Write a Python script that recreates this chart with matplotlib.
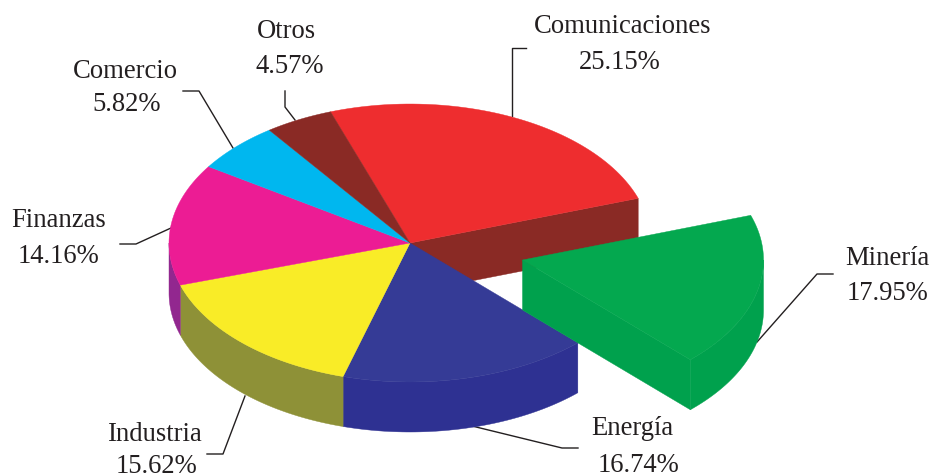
import numpy as np
import matplotlib
matplotlib.use("Agg")
import matplotlib.pyplot as plt

# Data
sectors = ['Comunicaciones', 'Minería', 'Energía', 'Industria', 'Finanzas', 'Comercio', 'Otros']
shares = [25.15, 17.95, 16.74, 15.62, 14.16, 5.82, 4.57]

# Colours, same order as sectors
top_colors = ['#EE2D2F', '#04A84F', '#353B96', '#F9EC27', '#EC1C94', '#00B7EF', '#8A2A25']
side_colors = ['#8A2A25', '#00A14D', '#2E3192', '#8E9137', '#92278F', '#00B7EF', '#8A2A25']

# Pie geometry in pixels
cx, cy = 410, 243
rx, ry = 241, 139
depth = 50
start_angle = 109.3  # left edge of Comunicaciones
explode = {'Minería': (112.5, 17)}

# Label layout: (x, baseline y) for the name and for the percent
name_pos = [(623, 33), (887, 265), (632, 435), (155, 441), (59, 227), (125, 78), (286, 38)]
value_pos = [(620, 69), (888, 300), (639, 472), (157, 473), (59, 263), (127, 111), (290, 73)]
leaders = [
    [(526, 48), (512, 48), (512, 116)],
    [(833, 274), (817, 274), (757, 342)],
    [(578, 448), (562, 448), (472, 426)],
    [(207, 454), (223, 454), (245, 396)],
    [(120, 244), (136, 244), (171, 228)],
    [(183, 91), (199, 91), (233, 148)],
    [(285, 91), (285, 107), (295, 120)],
]

plt.rcParams['font.family'] = ['Liberation Serif', 'DejaVu Serif']

fig = plt.figure(figsize=(9.32, 4.75), dpi=100)
ax = fig.add_axes([0, 0, 1, 1])
ax.set_xlim(0, 932)
ax.set_ylim(475, 0)
ax.axis('off')


def rim(a0, a1, dx=0, dy=0, n=60):
    t = np.radians(np.linspace(a0, a1, n))
    return cx + dx + rx * np.cos(t), cy + dy - ry * np.sin(t)


def fill(x, y, color, z):
    ax.fill(x, y, facecolor=color, edgecolor=color, linewidth=0.3, zorder=z)


def cut_face(angle, dx, dy, color, z):
    ex, ey = rim(angle, angle, dx, dy, 1)
    x0, y0 = cx + dx, cy + dy
    fill([x0, ex[0], ex[0], x0], [y0, ey[0], ey[0] + depth, y0 + depth], color, z)


# Angles run clockwise from the start
widths = np.array(shares) / 100 * 360
edges = start_angle - np.concatenate([[0], np.cumsum(widths)])

for i, name in enumerate(sectors):
    a0, a1 = edges[i], edges[i + 1]
    dx, dy = explode.get(name, (0, 0))
    z = 5 if name in explode else 1

    # outer wall, only the part below the middle of the ellipse shows
    lo, hi = max(a1, -180), min(a0, 0)
    if hi > lo:
        x, y = rim(hi, lo, dx, dy)
        fill(np.r_[x, x[::-1]], np.r_[y, y[::-1] + depth], side_colors[i], z)

    # cut faces that look toward the viewer
    if name == 'Comunicaciones':
        cut_face(a1, dx, dy, side_colors[i], 0)
    if name in explode:
        cut_face(a1, dx, dy, side_colors[i], z)

    # top face
    x, y = rim(a0, a1, dx, dy)
    fill(np.r_[cx + dx, x], np.r_[cy + dy, y], top_colors[i], z + 1)

# Labels and leader lines
for i, name in enumerate(sectors):
    ax.text(*name_pos[i], name, fontsize=19.2, color='#231F20', ha='center', va='baseline', zorder=10)
    ax.text(*value_pos[i], f'{shares[i]:.2f}%', fontsize=19.2, color='#231F20', ha='center', va='baseline', zorder=10)
    lx, ly = zip(*leaders[i])
    ax.plot(lx, ly, color='#231F20', linewidth=1.0, zorder=0.2)

fig.savefig('out.png', dpi=100)
